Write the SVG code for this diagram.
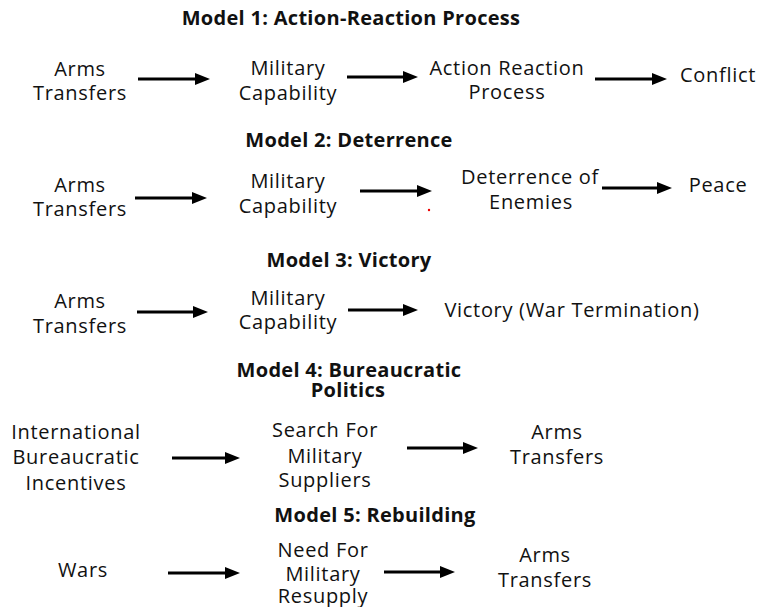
<svg xmlns="http://www.w3.org/2000/svg" width="759" height="607" viewBox="0 0 759 607">
<style>
text{font-family:"Open Sans","Liberation Sans",sans-serif;fill:#111;text-anchor:middle}
.t{font-size:20px;font-weight:bold;letter-spacing:0.3px}
.n{font-size:20px;letter-spacing:0.7px}
.c path{stroke:#000;stroke-width:3;fill:none}
</style>
<defs>
<marker id="ah" viewBox="0 0 15 12" refX="3" refY="6" markerWidth="15" markerHeight="12" markerUnits="userSpaceOnUse" orient="auto">
<path d="M0,0 L15,6 L0,12 z" fill="#000"/>
</marker>
</defs>
<rect width="759" height="607" fill="#fff"/>
<g id="titles">
<text class="t" x="351" y="25">Model 1: Action-Reaction Process</text>
<text class="t" x="349" y="147">Model 2: Deterrence</text>
<text class="t" x="349" y="267">Model 3: Victory</text>
<text class="t"><tspan x="349" y="377">Model 4: Bureaucratic</tspan><tspan x="348" y="397">Politics</tspan></text>
<text class="t" x="375" y="522">Model 5: Rebuilding</text>
</g>
<g id="m1-arms"><text class="n"><tspan x="80" y="76">Arms</tspan><tspan x="80" y="100">Transfers</tspan></text></g>
<g id="m1-military"><text class="n"><tspan x="288" y="75">Military</tspan><tspan x="288" y="100">Capability</tspan></text></g>
<g id="m1-action"><text class="n"><tspan x="507" y="75">Action Reaction</tspan><tspan x="507" y="99">Process</tspan></text></g>
<g id="m1-conflict"><text class="n" x="718" y="82">Conflict</text></g>
<g id="m2-arms"><text class="n"><tspan x="80" y="192">Arms</tspan><tspan x="80" y="216">Transfers</tspan></text></g>
<g id="m2-military"><text class="n"><tspan x="288" y="188">Military</tspan><tspan x="288" y="213">Capability</tspan></text></g>
<g id="m2-deterrence"><text class="n"><tspan x="530" y="184">Deterrence of</tspan><tspan x="531" y="209">Enemies</tspan></text></g>
<g id="m2-peace"><text class="n" x="718" y="192">Peace</text></g>
<g id="m3-arms"><text class="n"><tspan x="80" y="308">Arms</tspan><tspan x="80" y="333">Transfers</tspan></text></g>
<g id="m3-military"><text class="n"><tspan x="288" y="305">Military</tspan><tspan x="288" y="329">Capability</tspan></text></g>
<g id="m3-victory"><text class="n" x="572" y="317">Victory (War Termination)</text></g>
<g id="m4-incentives"><text class="n"><tspan x="76" y="439">International</tspan><tspan x="76" y="464">Bureaucratic</tspan><tspan x="76" y="490">Incentives</tspan></text></g>
<g id="m4-search"><text class="n"><tspan x="325" y="437">Search For</tspan><tspan x="325" y="463">Military</tspan><tspan x="325" y="487">Suppliers</tspan></text></g>
<g id="m4-arms"><text class="n"><tspan x="557" y="439">Arms</tspan><tspan x="557" y="464">Transfers</tspan></text></g>
<g id="m5-wars"><text class="n" x="83" y="577">Wars</text></g>
<g id="m5-need"><text class="n"><tspan x="323" y="557">Need For</tspan><tspan x="323" y="581">Military</tspan><tspan x="323" y="603">Resupply</tspan></text></g>
<g id="m5-arms"><text class="n"><tspan x="545" y="562">Arms</tspan><tspan x="545" y="587">Transfers</tspan></text></g>
<g id="connectors" class="c">
<path d="M138,79 H198" marker-end="url(#ah)"/>
<path d="M347,77 H406" marker-end="url(#ah)"/>
<path d="M595,79 H655" marker-end="url(#ah)"/>
<path d="M135,198 H195" marker-end="url(#ah)"/>
<path d="M360,191 H420" marker-end="url(#ah)"/>
<path d="M602,188 H660" marker-end="url(#ah)"/>
<path d="M137,312 H196" marker-end="url(#ah)"/>
<path d="M348,310 H406" marker-end="url(#ah)"/>
<path d="M172,458 H228" marker-end="url(#ah)"/>
<path d="M407,448 H466" marker-end="url(#ah)"/>
<path d="M168,573 H228" marker-end="url(#ah)"/>
<path d="M384,572 H443" marker-end="url(#ah)"/>
</g>
<circle cx="429" cy="210" r="1.2" fill="#e00"/>
</svg>
